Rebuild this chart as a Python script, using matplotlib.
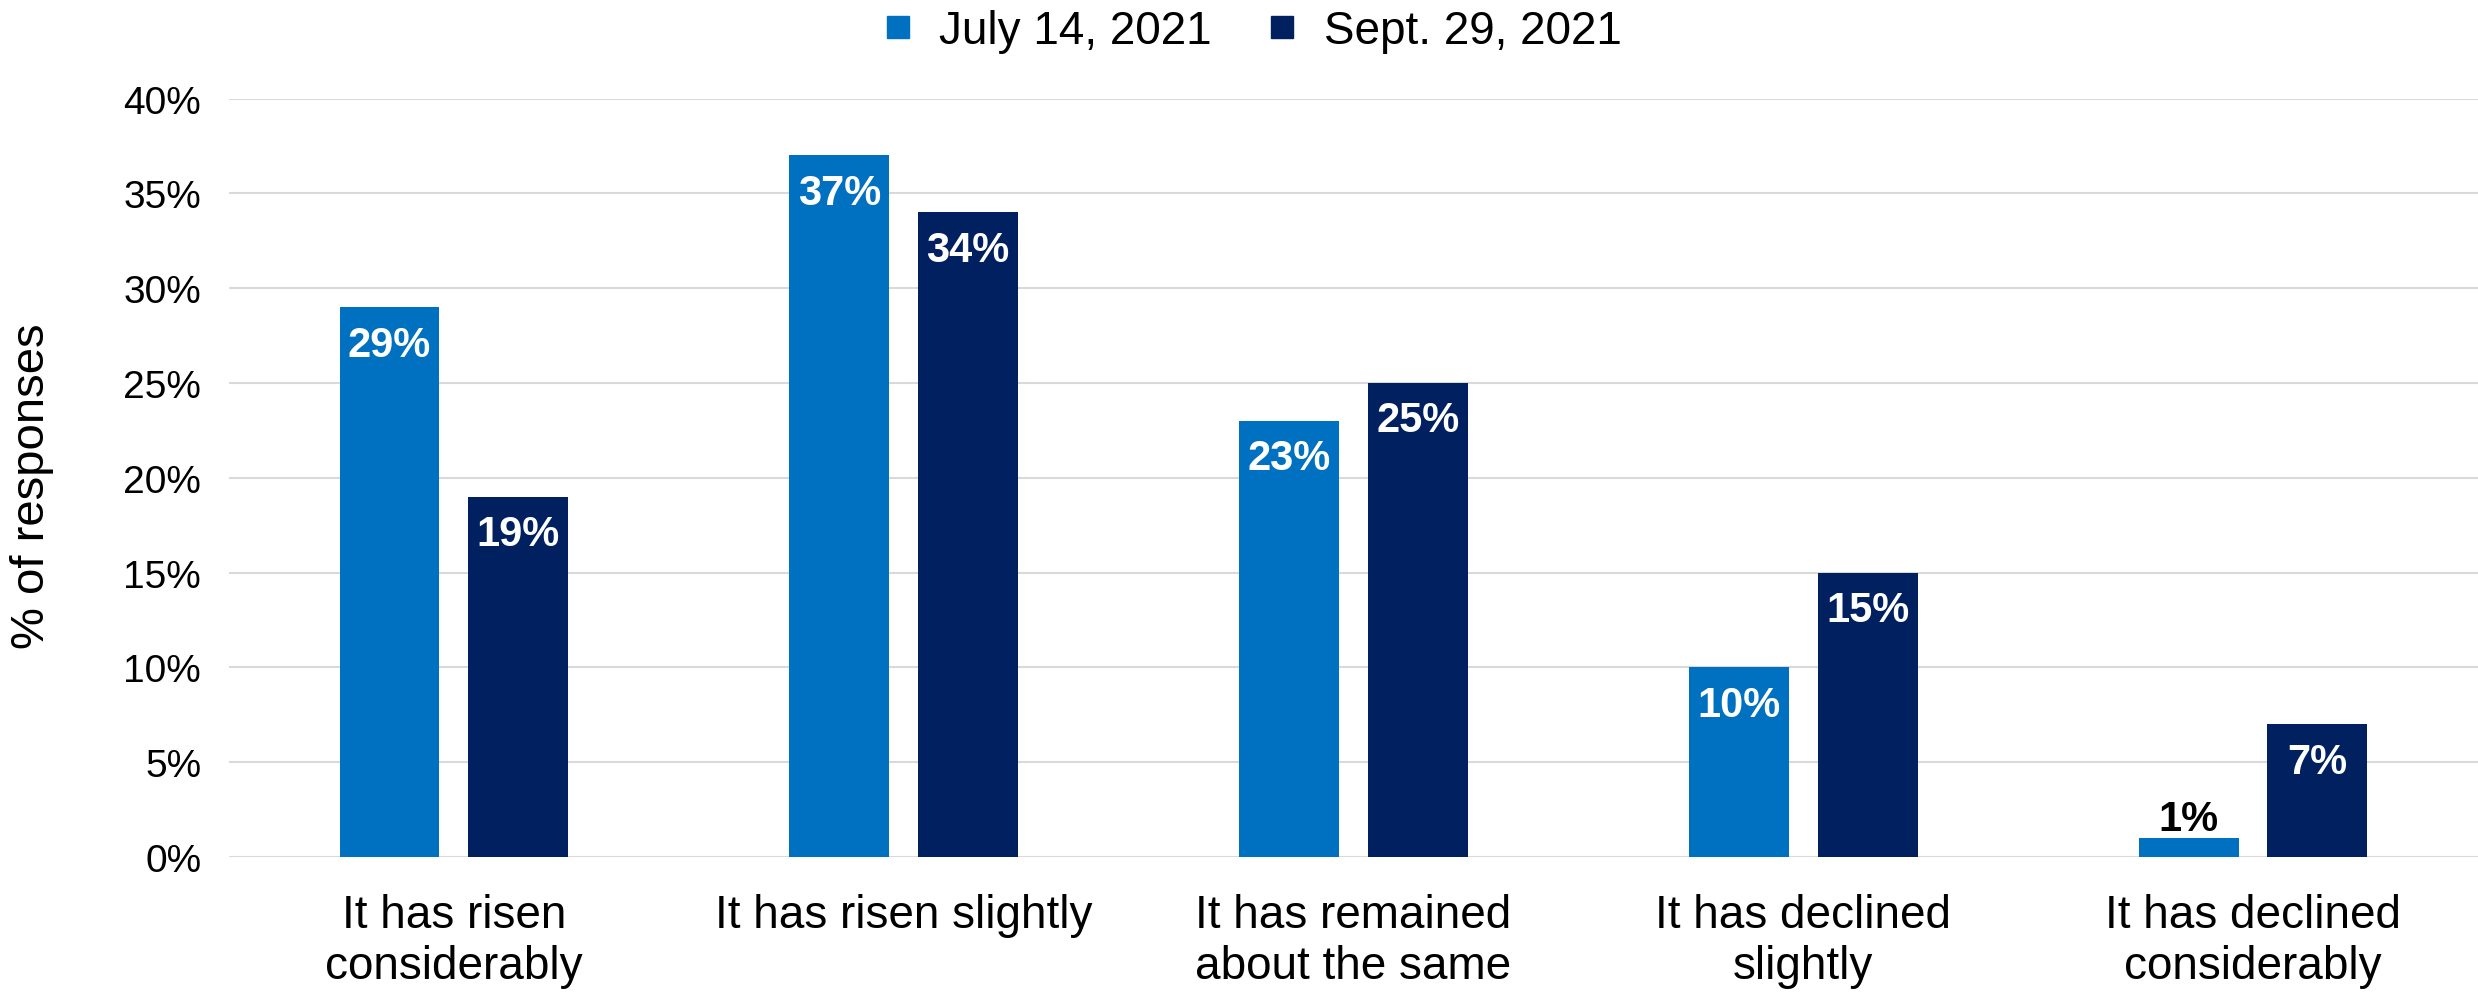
import numpy as np
import matplotlib
matplotlib.use("Agg")
import matplotlib.pyplot as plt
from matplotlib.lines import Line2D
from matplotlib.ticker import FuncFormatter

# ----------------------------
# Data
# ----------------------------
categories = [
    "It has risen\nconsiderably",
    "It has risen slightly",
    "It has remained\nabout the same",
    "It has declined\nslightly",
    "It has declined\nconsiderably",
]
series_names = ["July 14, 2021", "Sept. 29, 2021"]
july_vals = [29, 37, 23, 10, 1]
sept_vals = [19, 34, 25, 15, 7]
y_ticks = [0, 5, 10, 15, 20, 25, 30, 35, 40]

COLORS = ["#0070C0", "#002060"]

plt.rcParams["font.family"] = ["Liberation Sans", "DejaVu Sans"]

fig = plt.figure(figsize=(24.78, 9.95), dpi=100)
ax = fig.add_axes([0.0924, 0.1377, 0.9076, 0.7622])

x = np.arange(len(categories))
bw = 0.222
off = 0.143

for vals, dx, col in [(july_vals, -off, COLORS[0]), (sept_vals, off, COLORS[1])]:
    bars = ax.bar(x + dx, vals, width=bw, color=col, zorder=3)
    for b, v in zip(bars, vals):
        cx = b.get_x() + b.get_width() / 2
        if v < 3:
            # too short for an inside label -> put it on top in black
            ax.annotate(f"{v}%", (cx, v), xytext=(0, 14), textcoords="offset points",
                        ha="center", va="center", fontsize=30, fontweight="bold",
                        color="black", zorder=4)
        else:
            ax.annotate(f"{v}%", (cx, v), xytext=(0, -27), textcoords="offset points",
                        ha="center", va="center", fontsize=30, fontweight="bold",
                        color="white", zorder=4)

ax.set_xlim(-0.5, len(categories) - 0.5)
ax.set_ylim(0, 40)
ax.set_yticks(y_ticks)
ax.yaxis.set_major_formatter(FuncFormatter(lambda v, p: f"{v:.0f}%"))
ax.grid(axis="y", color="#d9d9d9", linewidth=1.5, zorder=0)
for s in ax.spines.values():
    s.set_visible(False)
ax.tick_params(axis="both", length=0)
ax.tick_params(axis="y", labelsize=28, pad=20)
ax.set_xticks(x)
ax.set_xticklabels(categories, fontsize=33, linespacing=1.2)
ax.tick_params(axis="x", pad=26)
ax.set_ylabel("% of responses", fontsize=34)
ax.yaxis.set_label_coords(-0.078, 0.49)

handles = [Line2D([], [], marker="s", linestyle="none", markersize=16, color=c) for c in COLORS]
fig.legend(handles, series_names, loc="center", bbox_to_anchor=(0.506, 0.968), ncol=2,
           frameon=False, fontsize=33, handlelength=0.5, handletextpad=0.65,
           columnspacing=1.3, borderaxespad=0)

fig.savefig("out.png", dpi=100)
